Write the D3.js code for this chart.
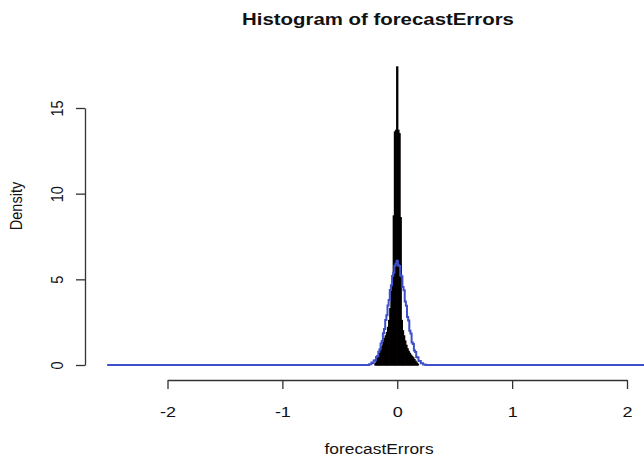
<!DOCTYPE html>
<html>
<head>
<meta charset="utf-8">
<script src="https://cdn.jsdelivr.net/npm/d3@7/dist/d3.min.js"></script>
<style>
  html, body { margin: 0; padding: 0; background: #fff; }
  svg { display: block; font-family: "Liberation Sans", Arial, sans-serif; }
</style>
</head>
<body>
<svg id="chart" width="644" height="459"></svg>
<script>
// ---- data ----
const binWidth = 0.01;
const histMids = [-0.20,-0.19,-0.18,-0.17,-0.16,-0.15,-0.14,-0.13,-0.12,-0.11,-0.10,-0.09,-0.08,-0.07,-0.06,-0.05,-0.04,-0.03,-0.02,-0.01,
                  0.00,0.01,0.02,0.03,0.04,0.05,0.06,0.07,0.08,0.09,0.10,0.11,0.12,0.13,0.14,0.15,0.16,0.17,0.18,0.19,0.20];
const histDensity = [0,0.08,0.2,0.4,0.55,0.7,0.9,1.1,1.4,1.55,1.7,1.9,2.2,2.6,3.3,4.4,4.7,8.7,13.6,13.7,
                     17.4,13.7,13.5,8.6,2.6,2.0,1.7,1.4,1.15,0.95,0.8,0.68,0.58,0.5,0.42,0.32,0.22,0.12,0.05,0,0];
const normX = [-2.52,-0.25,-0.24,-0.23,-0.22,-0.21,-0.20,-0.19,-0.18,-0.17,-0.16,-0.15,-0.14,-0.13,-0.12,-0.11,-0.10,-0.09,-0.08,-0.07,-0.06,-0.05,-0.04,-0.03,-0.02,-0.01,
               0.00,0.01,0.02,0.03,0.04,0.05,0.06,0.07,0.08,0.09,0.10,0.11,0.12,0.13,0.14,0.15,0.16,0.17,0.18,0.19,0.20,0.21,0.22,0.23,0.24,0.25,2.35];
const normDensity = [0,0,0.04,0.05,0.14,0.12,0.26,0.28,0.46,0.52,0.78,0.92,1.25,1.40,1.86,2.10,2.62,2.90,3.48,3.80,4.38,4.66,5.20,5.38,5.80,5.92,
                     6.08,5.82,5.78,5.22,5.18,4.55,4.36,3.70,3.46,2.80,2.60,2.00,1.84,1.32,1.22,0.84,0.76,0.47,0.44,0.24,0.23,0.10,0.10,0.03,0.03,0,0];
const xTicks = [-2,-1,0,1,2];
const yTicks = [0,5,10,15];
const titleText = "Histogram of forecastErrors";
const xLabel = "forecastErrors";
const yLabel = "Density";

// ---- drawing ----
const svg = d3.select("#chart");
const x = d3.scaleLinear().domain([-2, 2]).range([167.5, 627]);
const y = d3.scaleLinear().domain([0, 15]).range([365, 108]);
const sx = 1.2; // horizontal stretch of the text in the reference

// histogram bars
svg.append("g").selectAll("rect").data(histMids.map((m, i) => ({m, d: histDensity[i]})).filter(b => b.d > 0))
  .join("rect")
  .attr("x", b => x(b.m - binWidth / 2))
  .attr("width", b => x(b.m + binWidth / 2) - x(b.m - binWidth / 2))
  .attr("y", b => y(b.d))
  .attr("height", b => y(0) - y(b.d))
  .attr("fill", "#a01810")
  .attr("stroke", "#000")
  .attr("stroke-width", 1.15);

// normal line
svg.append("path")
  .datum(normX.map((v, i) => [v, normDensity[i]]))
  .attr("fill", "none")
  .attr("stroke", "#3d4fc9")
  .attr("stroke-width", 2)
  .attr("d", d3.line().curve(d3.curveStepAfter).x(d => x(d[0] - binWidth / 2)).y(d => y(d[1])));

// x axis
const xAxis = svg.append("g").attr("transform", "translate(0,380)")
  .call(d3.axisBottom(x).tickValues(xTicks).tickSize(9).tickSizeOuter(0).tickFormat(d3.format("d")));
xAxis.select(".domain").attr("stroke", "#333").attr("stroke-width", 1.3);
xAxis.selectAll(".tick line").attr("stroke", "#333").attr("stroke-width", 1.3);
xAxis.selectAll(".tick text").remove();
xAxis.selectAll(".tick").append("text")
  .attr("transform", `translate(0,37) scale(${sx},1)`)
  .attr("text-anchor", "middle")
  .attr("font-size", 15)
  .attr("fill", "#111")
  .text(d => d < 0 ? "-" + Math.abs(d) : d);

// y axis
const yAxis = svg.append("g").attr("transform", "translate(85,0)")
  .call(d3.axisLeft(y).tickValues(yTicks).tickSize(9).tickSizeOuter(0).tickFormat(d3.format("d")));
yAxis.select(".domain").attr("stroke", "#333").attr("stroke-width", 1.3);
yAxis.selectAll(".tick line").attr("stroke", "#333").attr("stroke-width", 1.3);
yAxis.selectAll(".tick text").remove();
yAxis.selectAll(".tick").append("text")
  .attr("transform", `translate(-28,0) scale(${sx},1) rotate(-90)`)
  .attr("text-anchor", "middle")
  .attr("dy", "0.35em")
  .attr("font-size", 14.5)
  .attr("fill", "#111")
  .text(d => d);

// title & labels
svg.append("text").attr("transform", `translate(378,25) scale(${sx},1)`).attr("text-anchor", "middle")
  .attr("font-size", 17).attr("font-weight", "bold").attr("fill", "#111").text(titleText);
svg.append("text").attr("transform", `translate(379,454) scale(${sx},1)`).attr("text-anchor", "middle")
  .attr("font-size", 14.5).attr("fill", "#111").text(xLabel);
svg.append("text").attr("transform", `translate(22,206) scale(${sx},1) rotate(-90)`).attr("text-anchor", "middle")
  .attr("font-size", 14.5).attr("fill", "#111").text(yLabel);
</script>
</body>
</html>
